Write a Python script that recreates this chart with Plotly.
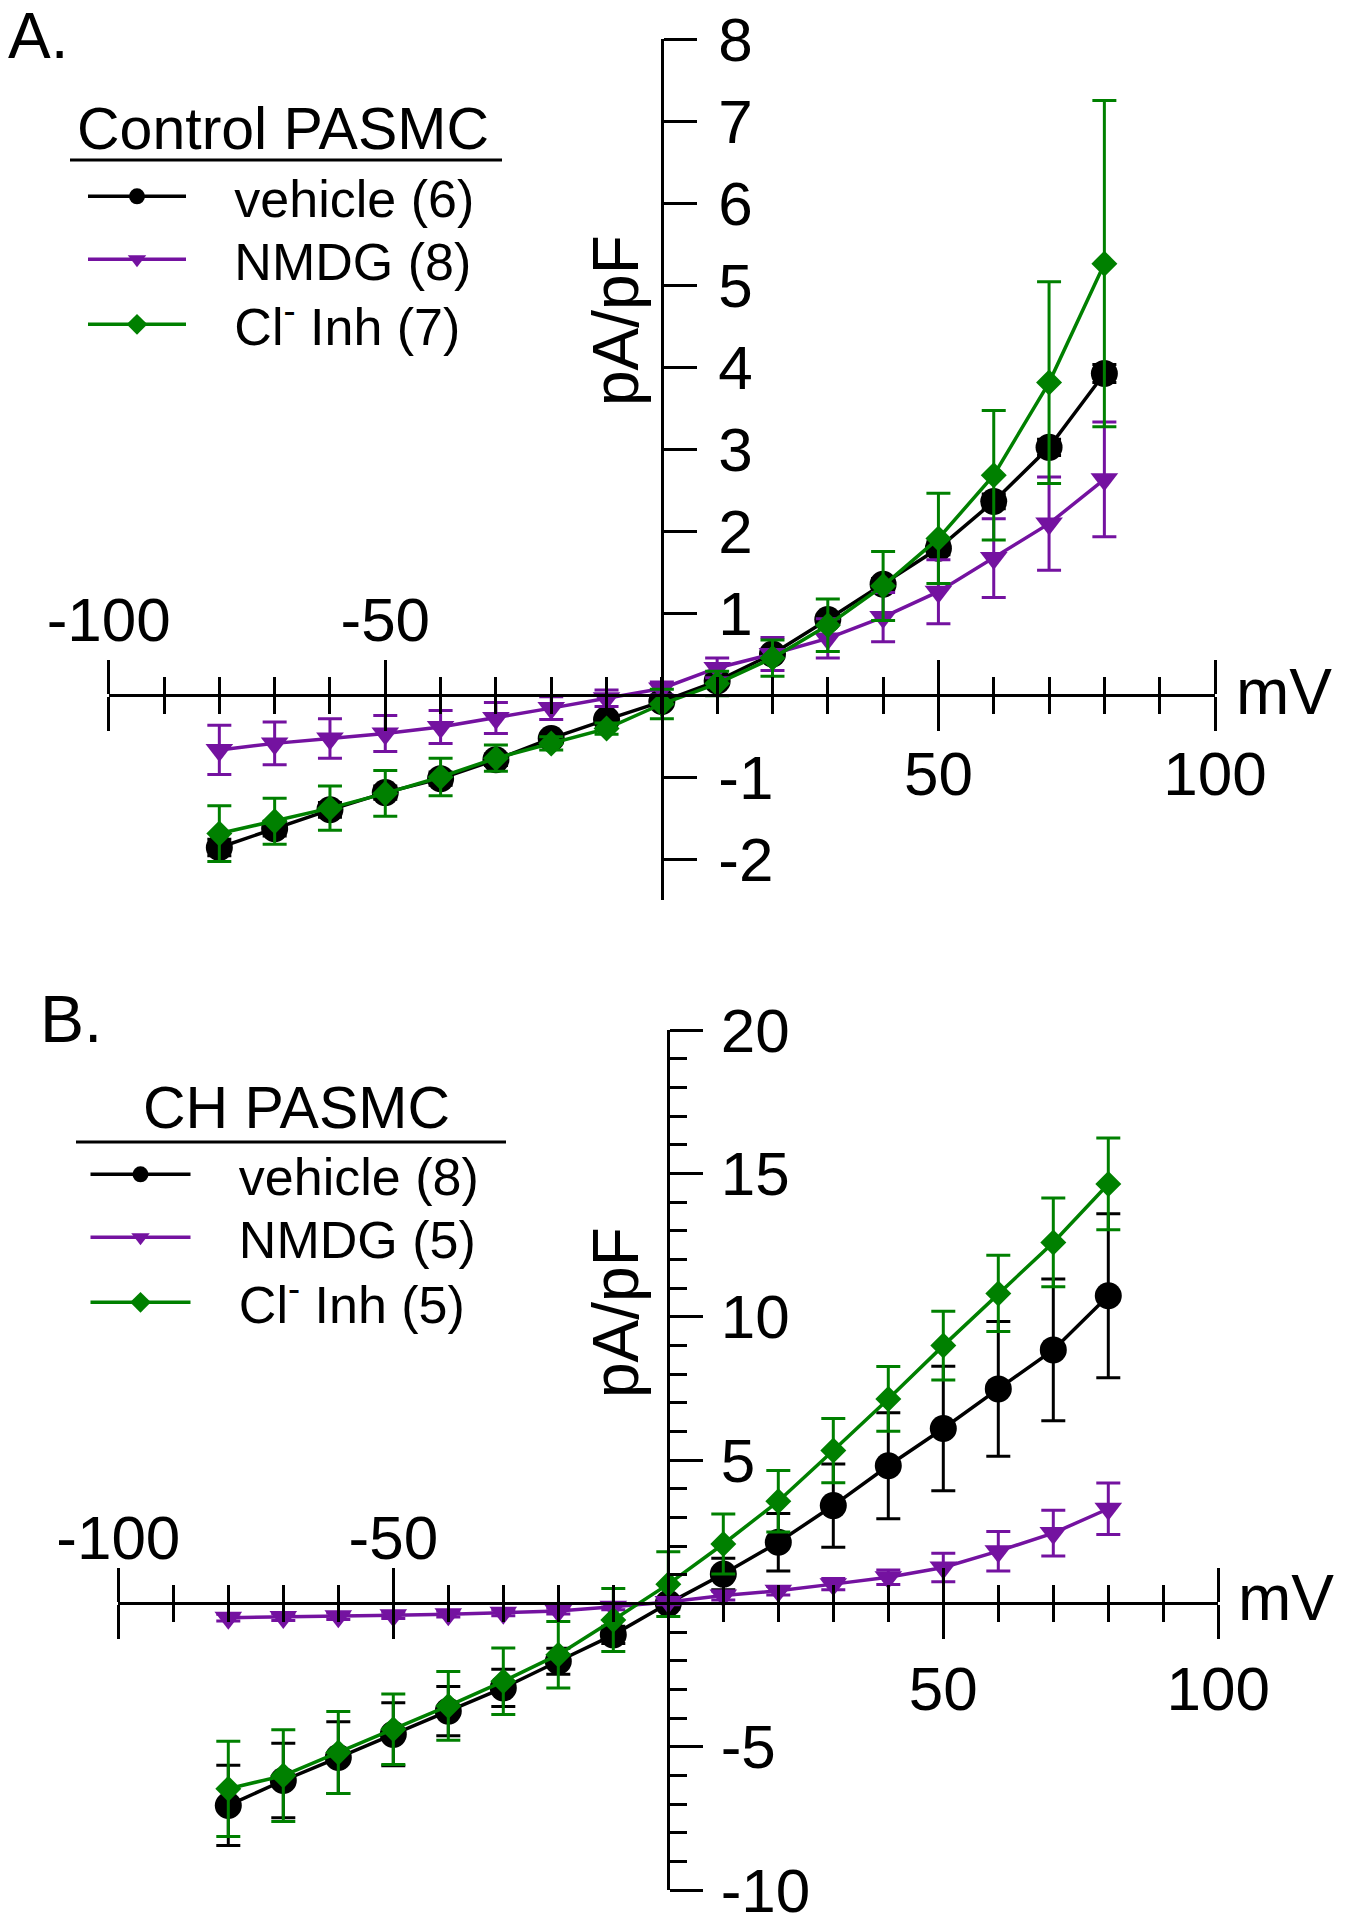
import plotly.graph_objects as go

#---------------------------------------------------------------------------------------

# data (mV, pA/pF mean and SEM)
mv = [-80, -70, -60, -50, -40, -30, -20, -10, 0, 10, 20, 30, 40, 50, 60, 70, 80]

# A. Control PASMC
a_vehicle = [-1.86, -1.63, -1.40, -1.19, -1.02, -0.79, -0.53, -0.30, -0.08, 0.17, 0.50, 0.92, 1.35, 1.79, 2.36, 3.02, 3.92]
a_vehicle_sem = [0.10, 0.09, 0.09, 0.08, 0.08, 0.07, 0.05, 0.04, 0.03, 0.04, 0.05, 0.06, 0.07, 0.08, 0.09, 0.10, 0.11]
a_nmdg = [-0.67, -0.59, -0.53, -0.47, -0.39, -0.28, -0.16, -0.04, 0.08, 0.33, 0.50, 0.69, 0.95, 1.26, 1.67, 2.09, 2.63]
a_nmdg_sem = [0.30, 0.26, 0.24, 0.22, 0.20, 0.19, 0.14, 0.10, 0.08, 0.12, 0.20, 0.24, 0.30, 0.39, 0.48, 0.57, 0.70]
a_clinh = [-1.69, -1.54, -1.38, -1.20, -1.00, -0.77, -0.59, -0.41, -0.11, 0.14, 0.45, 0.85, 1.33, 1.91, 2.68, 3.81, 5.26]
a_clinh_sem = [0.34, 0.28, 0.27, 0.28, 0.23, 0.16, 0.08, 0.07, 0.18, 0.15, 0.22, 0.32, 0.42, 0.55, 0.79, 1.23, 1.99]

# B. CH PASMC
b_vehicle = [-7.05, -6.18, -5.38, -4.57, -3.76, -2.95, -2.02, -1.10, 0.00, 1.02, 2.13, 3.41, 4.80, 6.10, 7.48, 8.84, 10.73]
b_vehicle_sem = [1.40, 1.30, 1.25, 1.10, 0.86, 0.65, 0.45, 0.30, 0.20, 0.55, 1.00, 1.45, 1.85, 2.17, 2.35, 2.47, 2.86]
b_nmdg = [-0.50, -0.48, -0.45, -0.42, -0.38, -0.33, -0.27, -0.12, 0.05, 0.27, 0.44, 0.67, 0.91, 1.25, 1.82, 2.45, 3.30]
b_nmdg_sem = [0.12, 0.12, 0.11, 0.11, 0.10, 0.10, 0.10, 0.10, 0.10, 0.15, 0.15, 0.20, 0.25, 0.50, 0.69, 0.80, 0.90]
b_clinh = [-6.47, -6.01, -5.20, -4.39, -3.58, -2.72, -1.79, -0.58, 0.67, 2.07, 3.56, 5.33, 7.13, 8.99, 10.81, 12.59, 14.63]
b_clinh_sem = [1.66, 1.60, 1.43, 1.23, 1.20, 1.16, 1.16, 1.10, 1.13, 1.05, 1.07, 1.12, 1.13, 1.20, 1.33, 1.55, 1.60]

a_names = ["vehicle (6)", "NMDG (8)", "Cl<sup>-</sup> Inh (7)"]
b_names = ["vehicle (8)", "NMDG (5)", "Cl<sup>-</sup> Inh (5)"]

x_ticks = [-100, -50, 50, 100]
a_yticks = [-2, -1, 1, 2, 3, 4, 5, 6, 7, 8]
b_yticks = [-10, -5, 5, 10, 15, 20]

#---------------------------------------------------------------------------------------

W, H = 1346, 1920
FONT = "Liberation Sans, Arial, sans-serif"
colors = ['#000000', '#7412a0', '#008000']
symbols = ['circle', 'triangle-down', 'diamond']
sizes = [27, 24, 20]

def fx(px):
    return px / W

def fy(py):
    return 1 - py / H

def cross(dom, rng):
    # paper position of data value 0 inside a domain
    return dom[0] + (0 - rng[0]) / (rng[1] - rng[0]) * (dom[1] - dom[0])

a_xdom = [fx(108.7), fx(1215)]
a_ydom = [fy(900), fy(39)]
b_xdom = [fx(118.3), fx(1218.3)]
b_ydom = [fy(1890), fy(1030)]
xr = [-100, 100]
a_yr = [-2.5, 8]
b_yr = [-10, 20]

fig = go.Figure()

pad = "\u00a0\u00a0\u00a0"
panels = [
    (['x', 'x', 'x3'], 'y', ['legend', 'legend2', 'legend3'],
     [a_vehicle, a_nmdg, a_clinh], [a_vehicle_sem, a_nmdg_sem, a_clinh_sem], a_names),
    (['x2', 'x2', 'x4'], 'y2', ['legend4', 'legend5', 'legend6'],
     [b_vehicle, b_nmdg, b_clinh], [b_vehicle_sem, b_nmdg_sem, b_clinh_sem], b_names),
]
for xs, ya, legs, means, sems, names in panels:
    for i in range(3):
        fig.add_trace(go.Scatter(
            x=mv, y=means[i], name=pad + names[i], mode='lines+markers',
            xaxis=xs[i], yaxis=ya, legend=legs[i], showlegend=True,
            line=dict(color=colors[i], width=3.5),
            marker=dict(symbol=symbols[i], size=sizes[i], color=colors[i]),
            error_y=dict(type='data', array=sems[i], color=colors[i], thickness=3, width=12),
        ))

tickfont = dict(family=FONT, size=62, color='black')

def x_axis(dom, pos, side, text, standoff, overlay=None):
    ax = dict(domain=dom, range=xr, anchor='free', position=pos, side=side, automargin=False,
              showline=True, linewidth=3, linecolor='black', showgrid=False, zeroline=False,
              tickmode='array', tickvals=x_ticks, ticktext=text,
              ticks='outside', ticklen=34, tickwidth=3, tickcolor='black',
              minor=dict(dtick=10, tick0=0, ticks='outside', ticklen=17, tickwidth=3, tickcolor='black'),
              tickfont=tickfont, ticklabelstandoff=standoff, ticklabeloverflow='allow', fixedrange=True)
    if overlay:
        ax['overlaying'] = overlay
    return ax

def y_axis(dom, rng, pos, vals, minor, standoff):
    ax = dict(domain=dom, range=rng, anchor='free', position=pos, side='right', automargin=False,
              showline=True, linewidth=3, linecolor='black', showgrid=False, zeroline=False,
              tickmode='array', tickvals=vals, ticktext=[str(v) for v in vals],
              ticks='outside', ticklen=33, tickwidth=3, tickcolor='black',
              tickfont=tickfont, ticklabelstandoff=standoff, ticklabeloverflow='allow', fixedrange=True)
    if minor:
        ax['minor'] = dict(dtick=1, tick0=0, ticks='outside', ticklen=17, tickwidth=3, tickcolor='black')
    return ax

a_xpos = cross(a_ydom, a_yr)
a_ypos = cross(a_xdom, xr)
b_xpos = cross(b_ydom, b_yr)
b_ypos = cross(b_xdom, xr)

def legend_box(px, py, iw):
    return dict(x=fx(px), y=fy(py), xanchor='left', yanchor='top', itemwidth=iw, visible=True,
                font=dict(family=FONT, size=52), bgcolor='rgba(0,0,0,0)')

fig.update_layout(
    width=W, height=H, margin=dict(l=0, r=0, t=0, b=0, autoexpand=False),
    paper_bgcolor='white', plot_bgcolor='white', showlegend=True,
    font=dict(family=FONT, color='black'),
    xaxis=x_axis(a_xdom, a_xpos, 'bottom', ['', '', '50', '100'], -10),
    xaxis3=x_axis(a_xdom, a_xpos, 'top', ['-100', '-50', '', ''], -6, overlay='x'),
    yaxis=y_axis(a_ydom, a_yr, a_ypos, a_yticks, False, 9),
    xaxis2=x_axis(b_xdom, b_xpos, 'bottom', ['', '', '50', '100'], -4),
    xaxis4=x_axis(b_xdom, b_xpos, 'top', ['-100', '-50', '', ''], -15, overlay='x2'),
    yaxis2=y_axis(b_ydom, b_yr, b_ypos, b_yticks, True, 5),
    legend=legend_box(83, 156, 98),
    legend2=legend_box(83, 219, 98),
    legend3=legend_box(83, 284, 98),
    legend4=legend_box(85.5, 1134, 100),
    legend5=legend_box(85.5, 1197, 100),
    legend6=legend_box(85.5, 1262, 100),
)

labels = [
    ("A.", 6, 36, 'left', 0, 64),
    ("B.", 38, 1019, 'left', 0, 66),
    ("mV", 1234, 692, 'left', 0, 64),
    ("mV", 1236, 1598, 'left', 0, 64),
    ("pA/pF", 616, 321, 'center', -90, 64),
    ("pA/pF", 616, 1313, 'center', -90, 64),
    ("Control PASMC", 283, 129, 'center', 0, 59),
    ("CH PASMC", 296, 1108, 'center', 0, 59),
]
for text, px, py, xa, ang, sz in labels:
    fig.add_annotation(text=text, x=fx(px), y=fy(py), xref='paper', yref='paper',
                       xanchor=xa, yanchor='middle', showarrow=False, textangle=ang,
                       font=dict(family=FONT, size=sz, color='black'))

# underline of the legend titles
for x0, x1, py in [(70, 502, 160), (76, 506, 1142)]:
    fig.add_shape(type='line', xref='paper', yref='paper', x0=fx(x0), x1=fx(x1), y0=fy(py), y1=fy(py),
                  line=dict(color='black', width=3))

fig.write_html("out.html", config={'displayModeBar': False},
               post_script="document.body.style.margin='0';")
